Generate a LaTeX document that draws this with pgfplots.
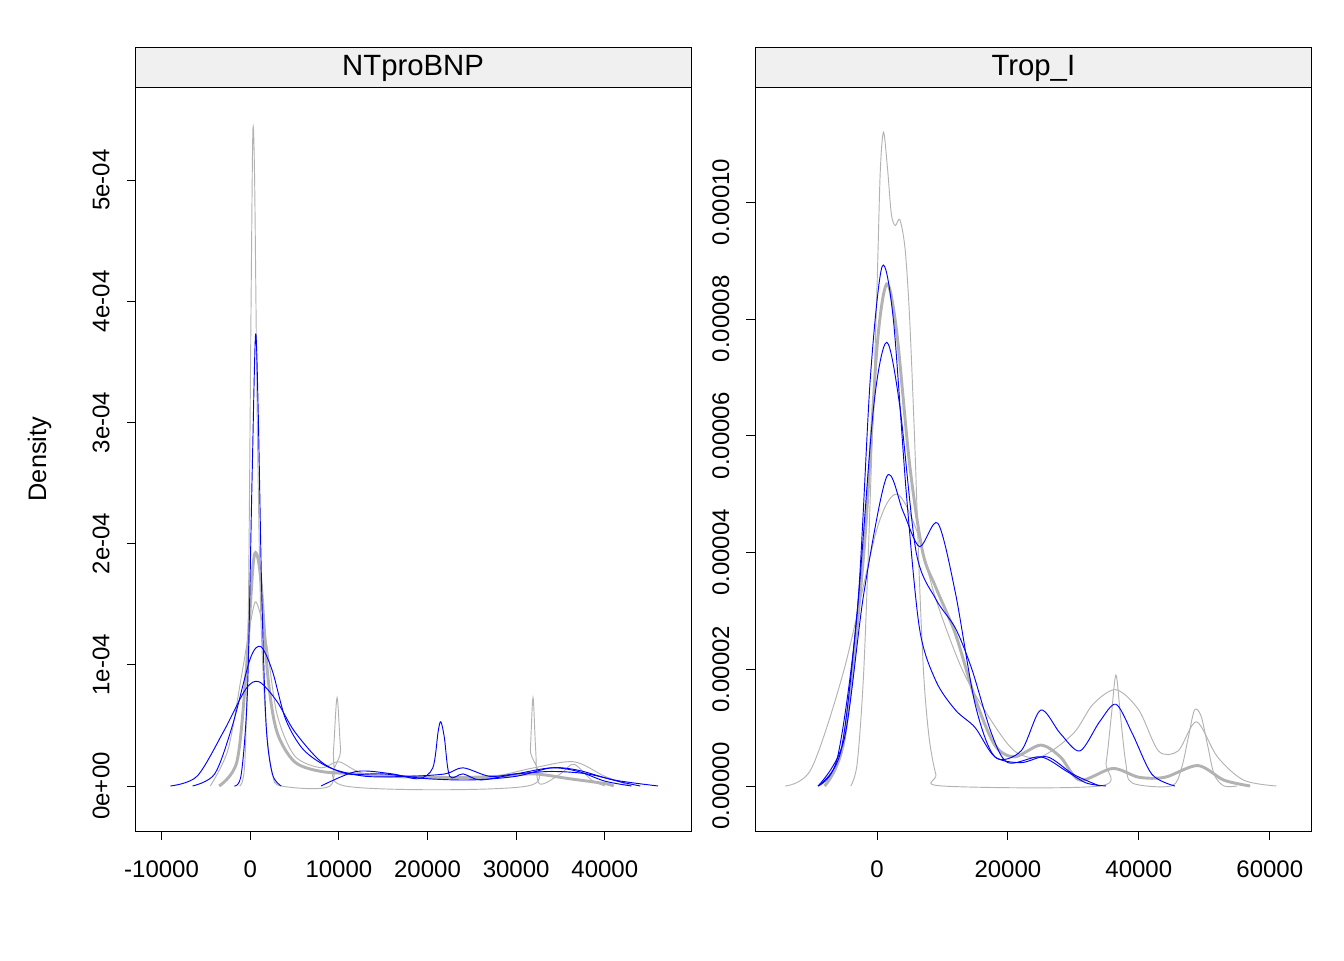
\documentclass[border=0pt]{standalone}
\usepackage{pgfplots}
\pgfplotsset{compat=1.18}
\usepackage{fontspec}
\setmainfont{Liberation Sans}
\definecolor{gr}{RGB}{178,178,178}
\definecolor{strip}{RGB}{240,240,240}
\begin{document}
\begin{tikzpicture}
\pgfplotsset{every axis/.style={scale only axis,
 tick align=outside, tick pos=left, line width=0.6pt, scaled ticks=false,
 tick style={black,line width=0.6pt}, major tick length=6.5pt,
 ticklabel style={font=\fontsize{18}{18}\selectfont},
 xticklabel style={yshift=-12pt},
 /pgf/number format/assume math mode=true,
 every axis plot/.append style={smooth,no marks,line width=0.7pt,tension=0.5}}}
\draw[white] (0pt,0pt) rectangle (1008pt,720pt);
% left panel
\begin{axis}[at={(101.25pt,96.75pt)},anchor=south west,width=417pt,height=558pt,
 xmin=-12970,xmax=49720,ymin=-0.371e-4,ymax=5.767e-4,
 xtick={-10000,0,10000,20000,30000,40000},
 xticklabels={-10000,0,10000,20000,30000,40000},
 ytick={0,1e-4,2e-4,3e-4,4e-4,5e-4},
 yticklabels={0e+00,1e-04,2e-04,3e-04,4e-04,5e-04},
 yticklabel style={rotate=90,anchor=south,yshift=9pt},
 ylabel={Density},ylabel style={font=\fontsize{19}{19}\selectfont,yshift=24pt}]
\addplot[gr,line width=2.2pt] coordinates {(-3500,0)(-1500,0.2e-4)(-500,0.9e-4)(300,1.8e-4)(700,1.92e-4)(1200,1.7e-4)(2000,0.9e-4)(3000,0.45e-4)(5000,0.2e-4)(8000,0.12e-4)(12000,0.1e-4)(16000,0.08e-4)(20000,0.07e-4)(24000,0.07e-4)(28000,0.08e-4)(32000,0.1e-4)(36000,0.06e-4)(40000,0.02e-4)(41000,0)};
\addplot[gr] coordinates {(-4500,0)(-2500,0.3e-4)(-1000,0.9e-4)(300,1.45e-4)(800,1.5e-4)(1800,1.2e-4)(3000,0.6e-4)(5000,0.25e-4)(8000,0.15e-4)(10000,0.2e-4)(13000,0.1e-4)(20000,0.08e-4)(26000,0.06e-4)(32000,0.15e-4)(36500,0.2e-4)(40000,0.08e-4)(43000,0)};
\addplot[gr,smooth=false] coordinates {(-1200,0)(-600,0.2e-4)(-200,1.5e-4)(100,4e-4)(300,5.4e-4)(500,5e-4)(800,3e-4)(1200,1.4e-4)(1800,0.5e-4)(2500,0.1e-4)(3500,0)(9000,0)(9400,0.3e-4)(9800,0.73e-4)(10200,0.3e-4)(10700,0)(31300,0)(31600,0.3e-4)(31900,0.73e-4)(32200,0.3e-4)(32600,0.02e-4)(35000,0.1e-4)(36500,0.18e-4)(38500,0.05e-4)(40000,0)};
\addplot[blue,smooth=false] coordinates {(-1800,0)(-1000,0.1e-4)(-300,0.8e-4)(200,2.5e-4)(600,3.72e-4)(900,3.1e-4)(1300,1.6e-4)(1800,0.5e-4)(2500,0.1e-4)(3500,0)};
\addplot[blue] coordinates {(8000,0)(12000,0.12e-4)(16000,0.1e-4)(19000,0.06e-4)(20600,0.15e-4)(21200,0.45e-4)(21500,0.53e-4)(21900,0.4e-4)(22500,0.08e-4)(24000,0.1e-4)(26000,0.05e-4)(30000,0.1e-4)(34000,0.15e-4)(37000,0.12e-4)(40000,0.04e-4)(43000,0)};
\addplot[blue] coordinates {(-6500,0)(-4000,0.1e-4)(-2000,0.5e-4)(0,1.05e-4)(1200,1.15e-4)(2500,0.95e-4)(4000,0.55e-4)(6000,0.3e-4)(9000,0.15e-4)(13000,0.08e-4)(18000,0.08e-4)(22000,0.1e-4)(24000,0.15e-4)(27000,0.08e-4)(30000,0.1e-4)(34000,0.12e-4)(38000,0.1e-4)(42000,0.03e-4)(44000,0)};
\addplot[blue] coordinates {(-9000,0)(-6000,0.08e-4)(-3000,0.45e-4)(-500,0.8e-4)(1000,0.86e-4)(3000,0.7e-4)(5000,0.45e-4)(8000,0.2e-4)(11000,0.1e-4)(15000,0.1e-4)(20000,0.06e-4)(25000,0.05e-4)(30000,0.08e-4)(34000,0.15e-4)(37000,0.13e-4)(41000,0.05e-4)(46000,0)};
\end{axis}
\draw[line width=0.6pt,fill=strip] (101.25pt,654.75pt) rectangle node[yshift=-1pt]{\fontsize{22}{22}\selectfont NTproBNP} (518.25pt,684.75pt);
% right panel
\begin{axis}[at={(566.25pt,96.75pt)},anchor=south west,width=417.75pt,height=558pt,
 xmin=-18626,xmax=66412,ymin=-0.77e-5,ymax=11.97e-5,
 xtick={0,20000,40000,60000},xticklabels={0,20000,40000,60000},
 ytick={0,2e-5,4e-5,6e-5,8e-5,10e-5},
 yticklabels={0.00000,0.00002,0.00004,0.00006,0.00008,0.00010},
 yticklabel style={rotate=90,anchor=south,yshift=9pt}]
\addplot[gr,line width=2.2pt] coordinates {(-8000,0)(-5000,0.8e-5)(-2000,4e-5)(0,7.5e-5)(1500,8.6e-5)(3000,7.8e-5)(5000,5.5e-5)(7000,4e-5)(9000,3.4e-5)(12000,2.6e-5)(15000,1.5e-5)(18000,0.7e-5)(21000,0.5e-5)(25000,0.7e-5)(28000,0.5e-5)(31000,0.1e-5)(36000,0.3e-5)(40000,0.15e-5)(44000,0.15e-5)(49000,0.35e-5)(53000,0.1e-5)(57000,0)};
\addplot[gr,smooth=false] coordinates {(-4000,0)(-3000,0.4e-5)(-2000,2e-5)(-1000,5e-5)(0,8.5e-5)(500,10.5e-5)(1000,11.2e-5)(1600,10.6e-5)(2200,9.8e-5)(2800,9.6e-5)(3500,9.7e-5)(4300,9.2e-5)(5000,8e-5)(5800,5.8e-5)(6500,3.5e-5)(7200,1.8e-5)(8000,0.8e-5)(9000,0.2e-5)(10000,0)(34000,0)(35000,0.4e-5)(35800,1.2e-5)(36500,1.9e-5)(37200,1.2e-5)(38000,0.4e-5)(39000,0.05e-5)(45000,0)(46500,0.3e-5)(47500,0.8e-5)(48500,1.3e-5)(49500,1.2e-5)(50500,0.7e-5)(51500,0.2e-5)(53000,0)(55000,0)};
\addplot[gr] coordinates {(-14000,0)(-10000,0.3e-5)(-5000,2e-5)(0,4.4e-5)(3000,5e-5)(6000,4.4e-5)(9000,3.2e-5)(13000,2e-5)(17000,1.2e-5)(21000,0.6e-5)(25000,0.5e-5)(30000,0.9e-5)(33000,1.4e-5)(36500,1.65e-5)(40000,1.3e-5)(43000,0.6e-5)(46000,0.6e-5)(48800,1.1e-5)(52000,0.5e-5)(56000,0.1e-5)(61000,0)};
\addplot[blue] coordinates {(-9000,0)(-6000,0.5e-5)(-3000,3e-5)(-1000,7e-5)(800,8.9e-5)(2500,8e-5)(4500,5e-5)(6500,2.7e-5)(9000,1.8e-5)(12000,1.3e-5)(15000,1e-5)(18000,0.5e-5)(22000,0.4e-5)(26000,0.5e-5)(30000,0.2e-5)(34000,0)};
\addplot[blue] coordinates {(-9000,0)(-5500,0.6e-5)(-3000,3e-5)(-500,6.5e-5)(1500,7.6e-5)(3500,6.5e-5)(6000,4e-5)(9000,3.2e-5)(12000,2.7e-5)(14500,2e-5)(17500,0.9e-5)(20000,0.4e-5)(25000,0.5e-5)(29000,0.25e-5)(32000,0.05e-5)(35000,0)};
\addplot[blue] coordinates {(-9000,0)(-5000,0.8e-5)(-2000,3.3e-5)(1500,5.3e-5)(4000,4.7e-5)(6500,4.1e-5)(9300,4.5e-5)(12000,3.3e-5)(15000,1.4e-5)(18000,0.5e-5)(22000,0.6e-5)(25000,1.3e-5)(28000,0.9e-5)(31000,0.6e-5)(34000,1.1e-5)(36500,1.4e-5)(39000,0.9e-5)(42000,0.2e-5)(45500,0)};
\end{axis}
\draw[line width=0.6pt,fill=strip] (566.25pt,654.75pt) rectangle node[yshift=-1pt]{\fontsize{22}{22}\selectfont Trop\_I} (984pt,684.75pt);
\end{tikzpicture}
\end{document}
